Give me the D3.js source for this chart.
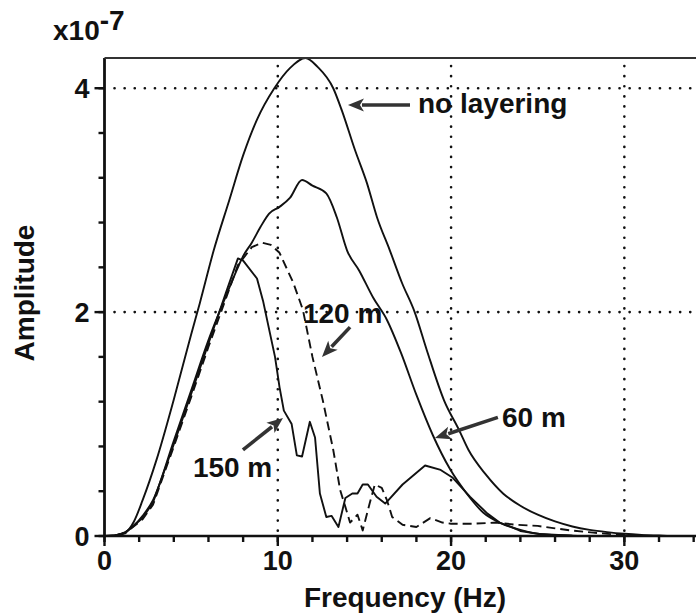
<!DOCTYPE html>
<html><head><meta charset="utf-8">
<script src="https://cdn.jsdelivr.net/npm/d3@7"></script>
<style>
body{margin:0;background:#fff}
svg{display:block}
text{font-family:"Liberation Sans",Arial,Helvetica,sans-serif;font-weight:bold;fill:#111}
</style>
</head><body><svg id="c" width="696" height="614"></svg>
<script>
// ---- data (frequency in Hz, amplitude in units of 1e-7) ----
const noLayering = [[0,0],[0.5,0.003],[1.2,0.03],[1.7,0.13],[2.2,0.32],[3.0,0.68],[4.0,1.22],[5.0,1.8],[5.5,2.08],[6.3,2.55],[7.2,3.0],[8.0,3.4],[8.8,3.72],[9.8,4.0],[10.7,4.18],[11.6,4.27],[12.3,4.19],[13.2,4.0],[13.7,3.8],[14.45,3.45],[15.15,3.15],[15.72,2.85],[16.47,2.55],[17.17,2.26],[17.9,2.0],[18.6,1.66],[19.6,1.21],[20.45,0.95],[21.0,0.77],[22.0,0.55],[23.0,0.38],[24.0,0.27],[25.0,0.19],[26.0,0.13],[27.0,0.085],[28.0,0.055],[29.0,0.035],[30.0,0.02],[31.0,0.01],[32.0,0.004],[33,0],[35,0]];
const layer60 = [[0,0],[0.6,0.005],[1.2,0.035],[2.2,0.18],[2.8,0.32],[4.0,0.85],[5.0,1.3],[6.0,1.75],[7.0,2.14],[7.7,2.40],[8.0,2.5],[8.5,2.62],[9.0,2.76],[9.5,2.88],[10.1,2.94],[10.7,3.02],[11.4,3.18],[12.0,3.13],[12.8,3.06],[13.4,2.85],[14.0,2.55],[14.7,2.37],[15.5,2.13],[16.3,1.93],[17.1,1.64],[18.0,1.26],[18.95,0.9],[19.93,0.6],[20.9,0.38],[21.85,0.21],[22.8,0.12],[24.0,0.054],[25.1,0.018],[27,0.003],[28,0],[35,0]];
const layer120 = [[0,0],[0.6,0.004],[1.2,0.025],[2.2,0.15],[2.8,0.28],[4.0,0.8],[5.0,1.24],[6.0,1.69],[7.0,2.12],[7.7,2.42],[8.5,2.58],[9.1,2.62],[9.6,2.6],[10.1,2.53],[10.9,2.26],[11.45,2.02],[12.0,1.6],[12.6,1.21],[13.2,0.77],[13.6,0.41],[13.9,0.26],[14.17,0.12],[14.6,0.19],[14.9,0.05],[15.3,0.29],[15.6,0.46],[16.0,0.43],[16.3,0.32],[16.6,0.17],[17.2,0.10],[18.0,0.08],[18.8,0.16],[19.5,0.12],[20.0,0.11],[21.3,0.11],[22.6,0.12],[23.8,0.10],[25.0,0.09],[25.9,0.07],[26.9,0.05],[28.2,0.03],[29.7,0.01],[32,0],[35,0]];
const layer150 = [[0,0],[0.6,0.005],[1.2,0.03],[2.2,0.16],[2.8,0.3],[4.0,0.82],[5.0,1.27],[6.0,1.72],[7.0,2.17],[7.7,2.48],[8.0,2.46],[8.8,2.30],[9.15,2.1],[9.55,1.81],[9.84,1.6],[10.1,1.33],[10.35,1.12],[10.8,1.0],[11.1,0.72],[11.4,0.71],[11.85,1.02],[12.15,0.88],[12.43,0.38],[12.8,0.17],[13.1,0.18],[13.5,0.08],[13.9,0.34],[14.3,0.38],[14.6,0.38],[14.9,0.46],[15.2,0.46],[15.7,0.35],[16.2,0.29],[17.2,0.46],[18.5,0.63],[19.4,0.59],[20.1,0.52],[21.1,0.35],[22.1,0.2],[22.8,0.12],[23.5,0.08],[24.0,0.045],[25.1,0.018],[27,0.003],[28,0],[35,0]];

const xMajorTicks = [0,10,20,30];
const xMinorTicks = d3.range(0,36,2);
const yMajorTicks = [0,2,4];
const yMinorTicks = d3.range(0,4.3,0.4);
const xLabel = "Frequency (Hz)";
const yLabel = "Amplitude";

// annotations in data units: label position and arrow tail -> tip
const annotations = [
  {text:"no layering", tx:18.09, ty:3.777, from:[17.63,3.85], to:[14.05,3.85]},
  {text:"120 m", tx:11.45, ty:1.90, from:[14.17,1.866], to:[12.55,1.60]},
  {text:"150 m", tx:5.1, ty:0.527, from:[7.99,0.77], to:[10.3,1.054]},
  {text:"60 m", tx:22.94, ty:0.973, from:[22.7,1.06], to:[19.07,0.875]}
];

// ---- layout ----
const W = 696, H = 614;
const x = d3.scaleLinear().domain([0,35]).range([104.5, 711]);
const y = d3.scaleLinear().domain([0,4.27]).range([536, 58]);
const svg = d3.select("#c");

svg.append("defs").append("clipPath").attr("id","pc")
  .append("rect").attr("x",x(0)).attr("y",y(4.27)-1).attr("width",W-x(0)).attr("height",y(0)-y(4.27)+1);

// grid
const grid = svg.append("g").attr("stroke","#111").attr("stroke-width",2.6)
  .attr("stroke-linecap","round").attr("stroke-dasharray","0.1,10");
grid.selectAll("line.v").data(xMajorTicks.filter(d=>d>0)).join("line").attr("class","v")
  .attr("x1",d=>x(d)).attr("x2",d=>x(d)).attr("y1",y(4.27)+8).attr("y2",y(0));
grid.selectAll("line.h").data(yMajorTicks.filter(d=>d>0)).join("line").attr("class","h")
  .attr("x1",x(0)+10).attr("x2",W).attr("y1",d=>y(d)).attr("y2",d=>y(d));

// curves
const smooth = d3.line().x(d=>x(d[0])).y(d=>y(d[1])).curve(d3.curveMonotoneX);
const jag = d3.line().x(d=>x(d[0])).y(d=>y(d[1])).curve(d3.curveLinear);
const cg = svg.append("g").attr("clip-path","url(#pc)").attr("fill","none")
  .attr("stroke","#111").attr("stroke-width",1.9).attr("stroke-linejoin","round");
cg.append("path").attr("d",smooth(noLayering));
cg.append("path").attr("d",smooth(layer60));
cg.append("path").attr("d",jag(layer150));
cg.append("path").attr("d",jag(layer120)).attr("stroke-dasharray","9,5");

// ticks
const tk = svg.append("g").attr("stroke","#111").attr("stroke-width",2.4);
tk.selectAll("line.xm").data(xMinorTicks).join("line").attr("class","xm")
  .attr("x1",d=>x(d)).attr("x2",d=>x(d)).attr("y1",y(0)).attr("y2",y(0)+6);
tk.selectAll("line.xM").data(xMajorTicks).join("line").attr("class","xM")
  .attr("x1",d=>x(d)).attr("x2",d=>x(d)).attr("y1",y(0)).attr("y2",y(0)+10);
tk.selectAll("line.ym").data(yMinorTicks).join("line").attr("class","ym")
  .attr("x1",x(0)-6).attr("x2",x(0)).attr("y1",d=>y(d)).attr("y2",d=>y(d));
tk.selectAll("line.yM").data(yMajorTicks).join("line").attr("class","yM")
  .attr("x1",x(0)-10).attr("x2",x(0)).attr("y1",d=>y(d)).attr("y2",d=>y(d));

// tick labels
svg.append("g").selectAll("text").data(xMajorTicks).join("text")
  .attr("x",d=>x(d)).attr("y",y(0)+34).attr("text-anchor","middle").style("font-size","27px").text(d=>d);
svg.append("g").selectAll("text").data(yMajorTicks).join("text")
  .attr("x",x(0)-15).attr("y",d=>y(d)).attr("dy","0.36em").attr("text-anchor","end").style("font-size","27px").text(d=>d);

// axis lines and top frame
svg.append("line").attr("x1",x(0)).attr("x2",W).attr("y1",y(0)).attr("y2",y(0)).attr("stroke","#111").attr("stroke-width",2.6);
svg.append("line").attr("x1",x(0)).attr("x2",x(0)).attr("y1",y(4.27)).attr("y2",y(0)).attr("stroke","#111").attr("stroke-width",2.8);
svg.append("line").attr("x1",x(0)).attr("x2",W).attr("y1",y(4.27)).attr("y2",y(4.27)).attr("stroke","#333").attr("stroke-width",2.2);

// axis titles
svg.append("text").attr("x",405).attr("y",607).attr("text-anchor","middle").style("font-size","28px").text(xLabel);
svg.append("text").attr("transform","translate(34,293) rotate(-90)").attr("text-anchor","middle").style("font-size","28px").text(yLabel);
const ex = svg.append("text").attr("x",53).attr("y",40).style("font-size","28px");
ex.append("tspan").text("x10");
ex.append("tspan").attr("dy",-10).text("-7");

// annotations
const ag = svg.append("g");
annotations.forEach(a=>{
  const x1=x(a.from[0]), y1=y(a.from[1]), x2=x(a.to[0]), y2=y(a.to[1]);
  const dx=x2-x1, dy=y2-y1, L=Math.hypot(dx,dy), ux=dx/L, uy=dy/L;
  const hl=16, hw=6.5;
  const bx=x2-ux*hl, by=y2-uy*hl;
  ag.append("line").attr("x1",x1).attr("y1",y1).attr("x2",bx+ux*2).attr("y2",by+uy*2)
    .attr("stroke","#333").attr("stroke-width",3.6);
  ag.append("path").attr("fill","#333")
    .attr("d",`M${x2},${y2}L${bx-uy*hw},${by+ux*hw}L${bx+ux*4},${by+uy*4}L${bx+uy*hw},${by-ux*hw}Z`);
  ag.append("text").attr("x",x(a.tx)).attr("y",y(a.ty)).style("font-size","28px").text(a.text);
});
</script>
</body></html>
